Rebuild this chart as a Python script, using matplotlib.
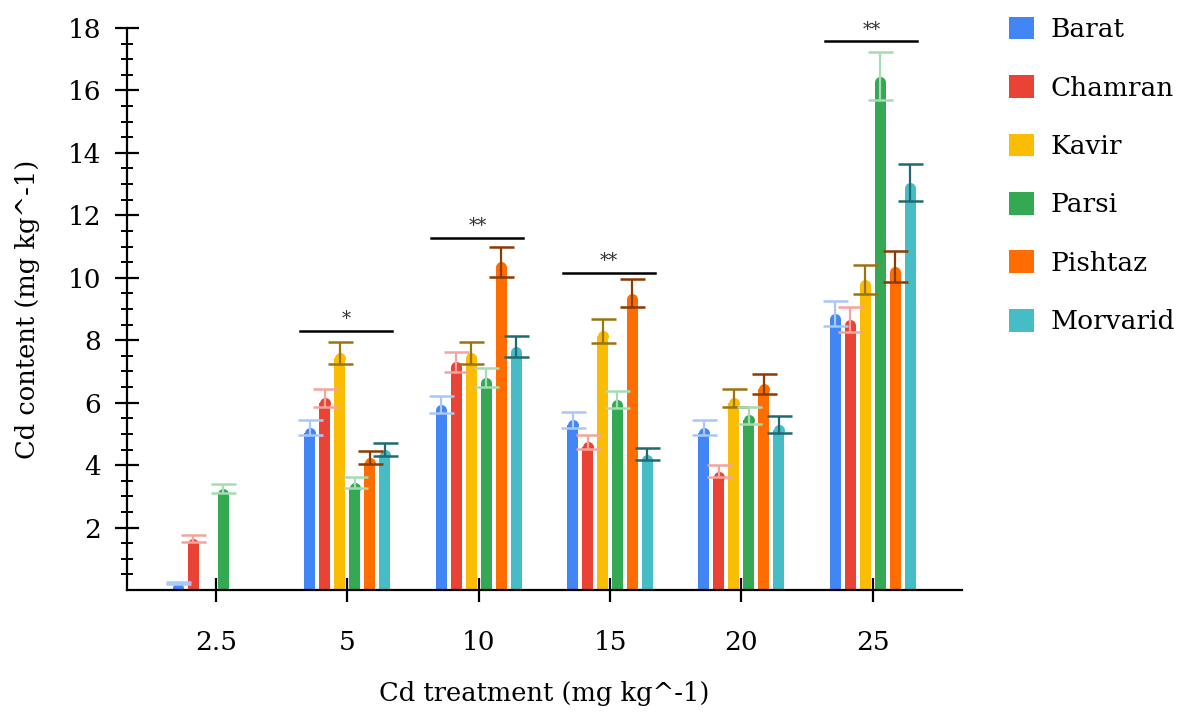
import numpy as np
import matplotlib
matplotlib.use("Agg")
import matplotlib.pyplot as plt
from matplotlib.patches import Patch

# data
treatments = ["2.5", "5", "10", "15", "20", "25"]
cultivars = ["Barat", "Chamran", "Kavir", "Parsi", "Pishtaz", "Morvarid"]

barat = [0.22, 5.2, 5.95, 5.45, 5.2, 8.85]
chamran = [1.65, 6.15, 7.3, 4.75, 3.8, 8.65]
kavir = [0.0, 7.6, 7.6, 8.3, 6.15, 9.95]
parsi = [3.25, 3.45, 6.8, 6.1, 5.6, 16.45]
pishtaz = [0.0, 4.25, 10.5, 9.5, 6.6, 10.35]
morvarid = [0.0, 4.5, 7.8, 4.35, 5.3, 13.05]

barat_err = [0.03, 0.25, 0.27, 0.25, 0.23, 0.4]
chamran_err = [0.1, 0.3, 0.33, 0.23, 0.19, 0.4]
kavir_err = [0.0, 0.35, 0.35, 0.38, 0.3, 0.47]
parsi_err = [0.15, 0.18, 0.3, 0.28, 0.27, 0.77]
pishtaz_err = [0.0, 0.2, 0.48, 0.45, 0.32, 0.5]
morvarid_err = [0.0, 0.22, 0.35, 0.2, 0.26, 0.6]

sig_marks = ["", "*", "**", "**", "", "**"]
sig_heights = [0, 8.3, 11.28, 10.16, 0, 17.58]

values = [barat, chamran, kavir, parsi, pishtaz, morvarid]
errors = [barat_err, chamran_err, kavir_err, parsi_err, pishtaz_err,
          morvarid_err]

bar_colors = ["#4285F4", "#EA4335", "#FBBC04", "#34A853", "#FF6D01",
              "#46BDC6"]
err_colors = ["#a9c8fa", "#f5a39c", "#9a7410", "#a5dcb3", "#8c3a00",
              "#1f6a70"]


def main():
    plt.rcParams['font.family'] = ['DejaVu Serif']
    fig = plt.figure(figsize=(11.79, 7.12), dpi=100)
    ax = fig.add_axes([0.1077, 0.1713, 0.7083, 0.7894])

    x = np.arange(len(treatments))
    step = 0.114
    width = 0.084
    r = 0.17  # rounded top radius in data units

    for i, (vals, errs) in enumerate(zip(values, errors)):
        pos = x + (i - 2.5) * step
        vals = np.array(vals)
        errs = np.array(errs)
        shown = vals > 0
        ax.bar(pos[shown], np.maximum(vals[shown] - r, 0), width=width,
               color=bar_colors[i], zorder=2)
        ax.plot(pos[shown], np.maximum(vals[shown] - r, 0.05), 'o',
                color=bar_colors[i], markersize=7.9, markeredgewidth=0,
                zorder=2)
        ax.errorbar(pos[shown], vals[shown], yerr=errs[shown], fmt='none',
                    ecolor=err_colors[i], elinewidth=1.6, capsize=9,
                    capthick=1.8, zorder=3)

    # significance lines
    for xi, mark, h in zip(x, sig_marks, sig_heights):
        if not mark:
            continue
        ax.plot([xi - 0.36, xi + 0.34], [h, h], color='black', lw=1.8,
                zorder=3)
        ax.text(xi - 0.01, h + 0.08, mark, ha='center', va='bottom',
                fontsize=13, color='#333333')

    ax.set_xlim(-0.677, 5.68)
    ax.set_ylim(0, 18)
    ax.set_xticks(x)
    ax.set_xticklabels(treatments)
    ax.set_yticks(np.arange(2, 19, 2))
    ax.set_yticks(np.arange(0.5, 18, 0.5), minor=True)

    for s in ['top', 'right']:
        ax.spines[s].set_visible(False)
    for s in ['left', 'bottom']:
        ax.spines[s].set_linewidth(1.6)

    ax.tick_params(axis='both', which='major', direction='inout',
                   length=17, width=1.6, labelsize=19)
    ax.tick_params(axis='y', which='minor', direction='inout',
                   length=9, width=1.4)
    ax.tick_params(axis='x', pad=20)
    ax.tick_params(axis='y', pad=10)

    ax.set_xlabel("Cd treatment (mg kg^-1)", fontsize=18.5, labelpad=19)
    ax.set_ylabel("Cd content (mg kg^-1)", fontsize=18.5, labelpad=20)

    handles = [Patch(facecolor=c, edgecolor='none') for c in bar_colors]
    fig.legend(handles, cultivars, loc='upper left',
               bbox_to_anchor=(0.836, 1.01), frameon=False, fontsize=19,
               handlelength=0.95, handleheight=0.95, labelspacing=1.25,
               handletextpad=0.6)

    fig.savefig("out.png", dpi=100)


if __name__ == "__main__":
    main()
